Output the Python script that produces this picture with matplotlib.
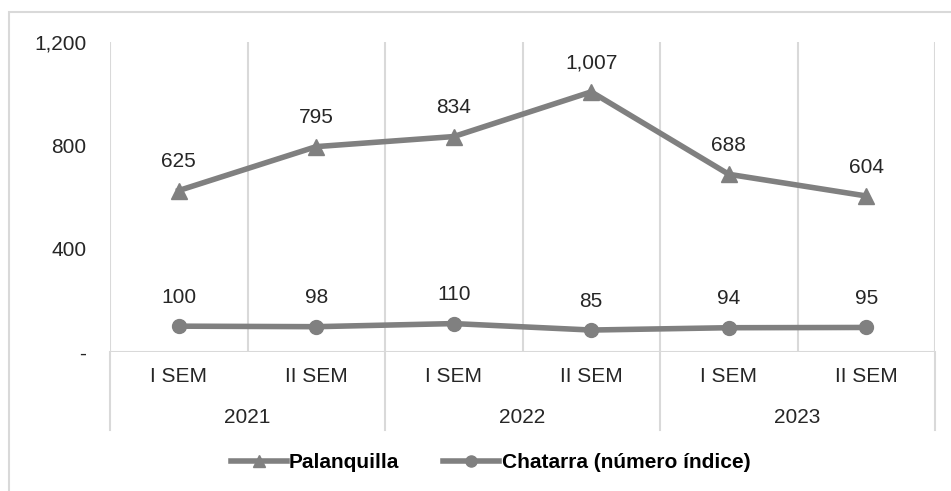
import matplotlib
matplotlib.use("Agg")
import matplotlib.pyplot as plt
from matplotlib.lines import Line2D
from matplotlib.patches import Rectangle

plt.rcParams["font.family"] = ["Liberation Sans", "DejaVu Sans"]

semesters = ["I SEM", "II SEM", "I SEM", "II SEM", "I SEM", "II SEM"]
years = ["2021", "2022", "2023"]
palanquilla = [625, 795, 834, 1007, 688, 604]
chatarra = [100, 98, 110, 85, 94, 95]
y_ticks = [0, 400, 800, 1200]
y_tick_labels = ["-", "400", "800", "1,200"]

LINE = "#808080"
GRID = "#d9d9d9"
TXT = "#262626"
FS = 15

fig = plt.figure(figsize=(9.51, 4.91), dpi=100)
W, H = 951, 491

# outer chart border
fig.patches.append(Rectangle((9 / W, -0.1), 1.1, 1 - 12 / H + 0.1,
                             transform=fig.transFigure, fill=False,
                             edgecolor=GRID, linewidth=1.5))

ax = fig.add_axes([110 / W, 1 - 352 / H, (935 - 110) / W, (352 - 42) / H])
n = len(semesters)
x = list(range(n))
ax.set_xlim(-0.5, n - 0.5)
ax.set_ylim(0, 1200)

for s in ax.spines.values():
    s.set_visible(False)

# vertical category gridlines
for b in range(n + 1):
    ax.axvline(b - 0.5, color=GRID, linewidth=1.5, zorder=0)
ax.axhline(0, color=GRID, linewidth=1.5, zorder=0)

# year separators below the axis
for b in range(0, n + 1, 2):
    ax.plot([b - 0.5, b - 0.5], [0, -300], color=GRID, linewidth=1.5,
            clip_on=False, zorder=0)

ax.set_yticks(y_ticks)
ax.set_yticklabels(y_tick_labels)
ax.tick_params(axis="y", length=0, pad=17, labelsize=FS, labelcolor=TXT)
ax.set_xticks(x)
ax.set_xticklabels(semesters)
ax.tick_params(axis="x", length=0, pad=11, labelsize=FS, labelcolor=TXT)

for i, yr in enumerate(years):
    ax.annotate(yr, xy=(2 * i + 0.5, 0), xycoords="data",
                xytext=(0, -47), textcoords="offset points",
                ha="center", va="center", fontsize=FS, color=TXT)

ax.plot(x, palanquilla, color=LINE, linewidth=4, marker="^", markersize=11,
        zorder=3, clip_on=False)
ax.plot(x, chatarra, color=LINE, linewidth=4, marker="o", markersize=10,
        zorder=3, clip_on=False)

for xi, v in zip(x, palanquilla):
    ax.annotate(f"{v:,}", xy=(xi, v), xytext=(0, 14), textcoords="offset points",
                ha="center", va="bottom", fontsize=FS, color=TXT)
for xi, v in zip(x, chatarra):
    ax.annotate(f"{v:,}", xy=(xi, v), xytext=(0, 14), textcoords="offset points",
                ha="center", va="bottom", fontsize=FS, color=TXT)

handles = [
    Line2D([], [], color=LINE, linewidth=4, marker="^", markersize=8),
    Line2D([], [], color=LINE, linewidth=4, marker="o", markersize=8),
]
fig.legend(handles, ["Palanquilla", "Chatarra (número índice)"],
           loc="center", bbox_to_anchor=(0.5 + 15 / W, 1 - 463 / H), ncol=2,
           frameon=False, handlelength=2.7, handletextpad=0.1, columnspacing=2.1,
           prop={"size": FS, "weight": "bold"})

fig.savefig("out.png", dpi=100)
